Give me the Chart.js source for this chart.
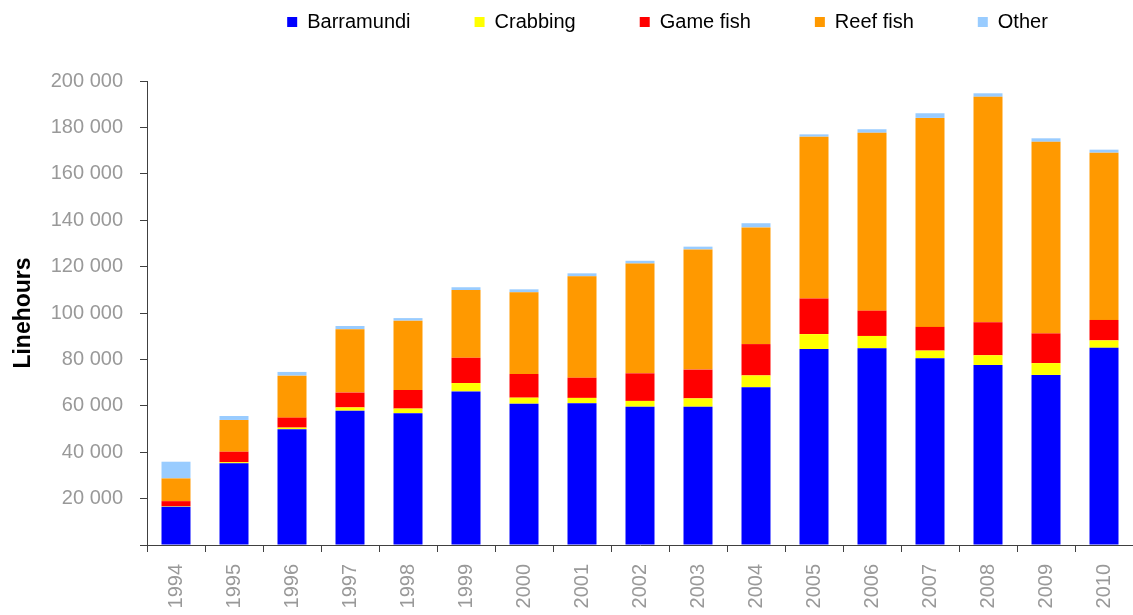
<!DOCTYPE html>
<html lang="en">
<head>
<meta charset="utf-8">
<title>Linehours by target species</title>
<script src="https://cdn.jsdelivr.net/npm/chart.js@4.4.1/dist/chart.umd.min.js"></script>
<style>
  html, body { margin: 0; padding: 0; background: #fff; }
  .chart-wrap { position: relative; width: 1133px; height: 615px; }
</style>
</head>
<body>
<div class="chart-wrap"><canvas id="linehoursChart"></canvas></div>
<script>
// Chart data
const years = ["1994", "1995", "1996", "1997", "1998", "1999", "2000", "2001", "2002",
  "2003", "2004", "2005", "2006", "2007", "2008", "2009", "2010"];
const barramundi = [16500, 35200, 49900, 57900, 56800, 66200, 60900, 61100, 59600,
  59600, 68000, 84500, 84800, 80500, 77600, 73300, 85000];
const crabbing = [200, 500, 700, 1400, 2000, 3600, 2600, 2300, 2500,
  3600, 5100, 6400, 5300, 3300, 4200, 5100, 3200];
const gameFish = [2200, 4500, 4300, 6400, 8000, 10900, 10200, 8700, 11900,
  12400, 13500, 15300, 10900, 10200, 14200, 12800, 8800];
const reefFish = [9800, 13700, 18100, 27300, 29900, 29200, 35200, 43700, 47300,
  51800, 50300, 69800, 76700, 90100, 97200, 82600, 72100];
const other = [7200, 1700, 1600, 1400, 1100, 1200, 1300, 1300, 1200,
  1200, 1800, 1000, 1500, 2000, 1500, 1500, 1300];

const FONT = "'Liberation Sans', Arial, sans-serif";
const AXIS_COLOR = "#404040";
const LABEL_GREY = "#999999";

// "200 000" style thousands separator, no label at zero
function spaceThousands(value) {
  if (value === 0) return "";
  return String(value).replace(/\B(?=(\d{3})+(?!\d))/g, " ");
}

// legend sits right of centre and near the top edge in the original
const legendTweaks = {
  id: "legendTweaks",
  beforeInit(chart) {
    const fit = chart.legend.fit;
    chart.legend.fit = function () {
      fit.bind(chart.legend)();
      this.height = 81;
    };
  },
  afterLayout(chart) {
    const lg = chart.legend;
    lg.left += 99;
    lg.right += 99;
    lg.top -= 52; // only the top moves, so the clip box still holds the text
  },
};

document.addEventListener("DOMContentLoaded", function () {
  const ctx = document.getElementById("linehoursChart").getContext("2d");

  const makeSet = (label, data, color) => ({
    label: label,
    data: data,
    backgroundColor: color,
    borderWidth: 0,
    barPercentage: 0.5,
    categoryPercentage: 1.0,
  });

  new Chart(ctx, {
    type: "bar",
    data: {
      labels: years,
      datasets: [
        makeSet("Barramundi", barramundi, "#0000FF"),
        makeSet("Crabbing", crabbing, "#FFFF00"),
        makeSet("Game fish", gameFish, "#FF0000"),
        makeSet("Reef fish", reefFish, "#FF9900"),
        makeSet("Other", other, "#99CCFF"),
      ],
    },
    plugins: [legendTweaks],
    options: {
      responsive: true,
      maintainAspectRatio: false,
      animation: false,
      layout: { padding: { top: 0, right: -4, bottom: 0, left: 0 } },
      plugins: {
        legend: {
          position: "top",
          labels: {
            boxWidth: 10,
            boxHeight: 10,
            padding: 64,
            color: "#000",
            font: { family: FONT, size: 20 },
          },
        },
        tooltip: { enabled: false },
      },
      scales: {
        x: {
          stacked: true,
          offset: true,
          grid: {
            display: true,
            offset: true,
            drawOnChartArea: false,
            tickLength: 7,
            tickColor: AXIS_COLOR,
          },
          border: { display: true, color: AXIS_COLOR, width: 1 },
          ticks: {
            color: LABEL_GREY,
            font: { family: FONT, size: 20 },
            minRotation: 90,
            maxRotation: 90,
            padding: 12,
            autoSkip: false,
          },
          afterFit(scale) {
            scale.height = 70;
            scale.paddingLeft = 0;
            scale.paddingRight = 0;
          },
        },
        y: {
          stacked: true,
          min: 0,
          max: 200000,
          grid: {
            display: true,
            drawOnChartArea: false,
            tickLength: 7,
            tickColor: AXIS_COLOR,
          },
          border: { display: true, color: AXIS_COLOR, width: 1 },
          ticks: {
            stepSize: 20000,
            color: LABEL_GREY,
            font: { family: FONT, size: 20 },
            padding: 17,
            callback: spaceThousands,
          },
          title: {
            display: true,
            text: "Linehours",
            color: "#000",
            font: { family: FONT, size: 23, weight: "bold" },
            padding: { top: 10, bottom: 0 },
          },
          afterFit(scale) {
            scale.width = 147;
          },
        },
      },
    },
  });
});
</script>
</body>
</html>
